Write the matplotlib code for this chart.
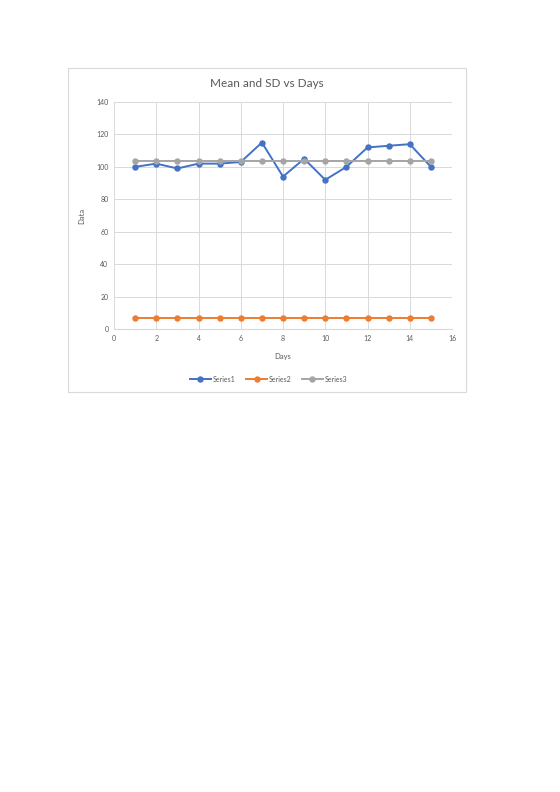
import matplotlib
matplotlib.use('Agg')
import matplotlib.pyplot as plt
from matplotlib.patches import Rectangle

plt.rcParams['font.family'] = ['Lato', 'DejaVu Sans']

# data
days = [1, 2, 3, 4, 5, 6, 7, 8, 9, 10, 11, 12, 13, 14, 15]
series1 = [100, 102, 99, 102, 102, 103, 115, 94, 105, 92, 100, 112, 113, 114, 100]
series2 = [7, 7, 7, 7, 7, 7, 7, 7, 7, 7, 7, 7, 7, 7, 7]
series3 = [103.5] * 15
series_names = ['Series1', 'Series2', 'Series3']
colors = ['#4472C4', '#ED7D31', '#A5A5A5']

fig = plt.figure(figsize=(5.6, 7.92), dpi=100)

# chart frame
fig.patches.append(Rectangle((0.1214, 0.505), 0.7107, 0.409, transform=fig.transFigure,
                             fill=False, edgecolor='#D9D9D9', linewidth=0.8))

ax = fig.add_axes([0.2036, 0.5846, 0.6036, 0.2866])
for ys, name, c in zip([series1, series2, series3], series_names, colors):
    ax.plot(days, ys, color=c, lw=1.4, marker='o', markersize=3.6, label=name)

ax.set_xlim(0, 16)
ax.set_ylim(0, 140)
ax.set_xticks(range(0, 17, 2))
ax.set_yticks(range(0, 141, 20))
ax.grid(True, color='#D9D9D9', lw=0.7)
ax.set_axisbelow(True)
for s in ['top', 'right', 'left']:
    ax.spines[s].set_visible(False)
ax.spines['bottom'].set_color('#D9D9D9')
ax.tick_params(length=0, labelsize=5, colors='#595959', pad=4)

# title is centred on the chart frame, not the plot area
fig.text(0.477, 0.895, 'Mean and SD vs Days', fontsize=8.5, color='#595959',
         ha='center', va='center')
ax.set_xlabel('Days', fontsize=5.5, color='#595959', labelpad=8)
ax.set_ylabel('Data', fontsize=5.5, color='#595959', labelpad=8)

fig.legend(loc='center', bbox_to_anchor=(0.48, 0.521), ncol=3, frameon=False,
           fontsize=5, labelcolor='#595959', handlelength=3, columnspacing=1.5,
           handletextpad=0.3)

fig.savefig('out.png', dpi=100)
